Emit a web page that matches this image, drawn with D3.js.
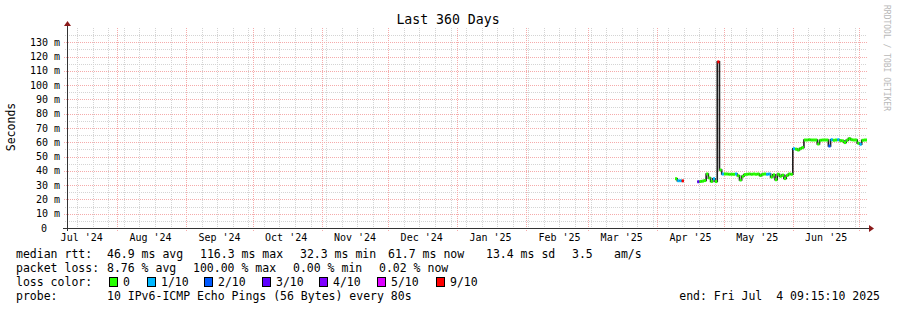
<!DOCTYPE html>
<html>
<head>
<meta charset="utf-8">
<script src="https://cdn.jsdelivr.net/npm/d3@7"></script>
<style>
body { margin: 0; background: #fff; }
text { font-family: "DejaVu Sans Mono", monospace; }
</style>
</head>
<body>
<svg id="chart" width="897" height="310"></svg>
<script>
/*Chart data*/
var startTime = "2024-07-09T09:15:10";
var endTime = "2025-07-04T09:15:10";
var firstDay = "2025-04-09";
// daily median rtt in ms, null = no data
var medianMs = [
  34.5, 33.1, 33.1, 33.0, null, null, null, null, null, null,
  32.4, 32.6, 32.8, 33.2, 37.8, 35.0, 32.6, 34.5, 32.5, 116.3,
  40.6, 37.8, 37.8, 37.8, 37.6, 37.6, 37.6, 37.8, 36.6, 33.6,
  36.2, 37.4, 37.6, 37.8, 37.6, 37.8, 37.6, 37.8, 36.8, 37.6,
  37.8, 37.6, 37.8, 35.7, 37.2, 33.8, 37.6, 36.2, 37.0, 34.6,
  36.8, 37.8, 37.6, 55.5, 55.2, 54.6, 55.6, 56.3, 61.6, 61.6,
  61.8, 61.6, 61.6, 61.6, 58.8, 61.4, 61.6, 61.6, 61.6, 57.4,
  61.8, 61.4, 61.6, 61.8, 61.2, 61.0, 59.8, 61.4, 62.6, 61.8,
  61.6, 61.6, 59.4, 58.6, 61.4, 61.6
];
// lost pings out of 10
var lossCount = [
  0, 1, 1, 9, 0, 0, 0, 0, 0, 0,
  3, 0, 0, 0, 0, 0, 0, 1, 0, 10,
  0, 1, 0, 0, 0, 0, 0, 1, 0, 0,
  0, 0, 0, 0, 0, 0, 0, 0, 0, 0,
  0, 1, 1, 0, 0, 0, 0, 0, 0, 0,
  0, 0, 0, 1, 0, 0, 0, 0, 0, 0,
  0, 0, 0, 0, 0, 0, 0, 0, 0, 2,
  1, 0, 0, 1, 0, 0, 0, 0, 0, 0,
  0, 0, 0, 1, 0, 0
];
var lossLabels = ["0", "1/10", "2/10", "3/10", "4/10", "5/10", "9/10"];
var lossColors = ["#26ff00", "#00b8ff", "#0059ff", "#5e00ff", "#7e00ff", "#dd00ff", "#ff0000"];
var yMax = 140;
var statLines = [
  ["median rtt:", "46.9 ms avg", "116.3 ms max", "32.3 ms min", "61.7 ms now", "13.4 ms sd", "3.5", "am/s"],
  ["packet loss:", "8.76 % avg", "100.00 % max", "0.00 % min", "0.02 % now"]
];
var probeText = "10 IPv6-ICMP Echo Pings (56 Bytes) every 80s";
var endText = "end: Fri Jul  4 09:15:10 2025";

/*Layout*/
var svg = d3.select("#chart");
var plotLeft = 67, plotRight = 867, plotTop = 28, plotBottom = 228;
var parse = d3.isoParse;

var x = d3.scaleTime()
  .domain([parse(startTime), parse(endTime)])
  .range([plotLeft, plotRight]);
var y = d3.scaleLinear().domain([0, yMax]).range([plotBottom, plotTop]);

svg.append("rect").attr("width", 897).attr("height", 310).attr("fill", "#fff");

//Map lost pings to a legend color
function lossIndex(n) {
  if (n <= 4) return n;
  if (n <= 8) return 5;
  return 6;
}

/*Grid*/
var grid = svg.append("g").attr("shape-rendering", "crispEdges");
var weeks = d3.timeSunday.range(parse(startTime), parse(endTime));
var months = d3.timeMonth.range(parse(startTime), parse(endTime));
var minorY = d3.range(5, yMax, 10);
var majorY = d3.range(10, yMax, 10);
var minorColor = "#d4d4d4", majorColor = "#f5abab";

grid.selectAll(".wk").data(weeks).enter().append("line")
  .attr("x1", function(d) { return Math.round(x(d)) + 0.5; })
  .attr("x2", function(d) { return Math.round(x(d)) + 0.5; })
  .attr("y1", plotTop).attr("y2", plotBottom + 2)
  .attr("stroke", minorColor).attr("stroke-dasharray", "1,1");
grid.selectAll(".hy").data(minorY).enter().append("line")
  .attr("x1", plotLeft - 2).attr("x2", plotRight)
  .attr("y1", function(d) { return Math.round(y(d)) + 0.5; })
  .attr("y2", function(d) { return Math.round(y(d)) + 0.5; })
  .attr("stroke", minorColor).attr("stroke-dasharray", "1,1");
grid.selectAll(".mo").data(months).enter().append("line")
  .attr("x1", function(d) { return Math.round(x(d)) + 0.5; })
  .attr("x2", function(d) { return Math.round(x(d)) + 0.5; })
  .attr("y1", plotTop).attr("y2", plotBottom + 3)
  .attr("stroke", majorColor).attr("stroke-dasharray", "1,1");
grid.selectAll(".my").data(majorY).enter().append("line")
  .attr("x1", plotLeft - 3).attr("x2", plotRight)
  .attr("y1", function(d) { return Math.round(y(d)) + 0.5; })
  .attr("y2", function(d) { return Math.round(y(d)) + 0.5; })
  .attr("stroke", majorColor).attr("stroke-dasharray", "1,1");

/*Axis labels*/
svg.selectAll(".ylab").data([0].concat(majorY)).enter().append("text")
  .attr("x", function(d) { return d === 0 ? 47 : 60; })
  .attr("y", function(d) { return y(d) + 3.5; })
  .attr("text-anchor", "end")
  .attr("font-size", "10px")
  .attr("fill", "#000")
  .text(function(d) { return d === 0 ? "0" : d + " m"; });

var midMonths = [parse("2024-07-16T00:00:00")].concat(months.map(function(d) {
  return d3.timeDay.offset(d, 15);
})).filter(function(d) { return d < parse(endTime); });
svg.selectAll(".xlab").data(midMonths).enter().append("text")
  .attr("x", function(d) { return x(d); })
  .attr("y", 241)
  .attr("text-anchor", "middle")
  .attr("font-size", "10px")
  .text(d3.timeFormat("%b '%y"));

/*Data*/
var days = medianMs.map(function(v, i) {
  var t0 = d3.timeDay.offset(parse(firstDay + "T00:00:00"), i);
  var t1 = i === medianMs.length - 1 ? parse(endTime) : d3.timeDay.offset(t0, 1);
  return {t0: t0, t1: t1, v: v, loss: lossCount[i]};
});

var steps = [];
days.forEach(function(d) {
  if (d.v === null) { steps.push(null); return; }
  steps.push({t: d.t0, v: d.v});
  steps.push({t: d.t1, v: d.v});
});

var stepLine = d3.line()
  .defined(function(d) { return d !== null; })
  .x(function(d) { return x(d.t); })
  .y(function(d) { return y(d.v); });

svg.append("path")
  .attr("d", stepLine(steps))
  .attr("fill", "none")
  .attr("stroke", "#202020")
  .attr("stroke-width", 1.6);

svg.selectAll(".seg").data(days.filter(function(d) { return d.v !== null; }))
  .enter().append("line")
  .attr("x1", function(d) { return x(d.t0); })
  .attr("x2", function(d) { return x(d.t1); })
  .attr("y1", function(d) { return y(d.v); })
  .attr("y2", function(d) { return y(d.v); })
  .attr("stroke", function(d) { return lossColors[lossIndex(d.loss)]; })
  .attr("stroke-width", 3);

/*Axes*/
var axes = svg.append("g").attr("shape-rendering", "crispEdges");
axes.append("line").attr("x1", plotLeft + 0.5).attr("x2", plotLeft + 0.5)
  .attr("y1", plotBottom + 3).attr("y2", plotTop - 4)
  .attr("stroke", "#333");
axes.append("line").attr("x1", plotLeft - 4).attr("x2", plotRight + 2)
  .attr("y1", plotBottom + 0.5).attr("y2", plotBottom + 0.5)
  .attr("stroke", "#333");
svg.append("path")
  .attr("d", "M" + (plotLeft + 0.5) + "," + (plotTop - 7) + "l-3.5,5h7z")
  .attr("fill", "#8b1a1a");
svg.append("path")
  .attr("d", "M" + (plotRight + 7) + "," + (plotBottom + 0.5) + "l-5,-3.5v7z")
  .attr("fill", "#8b1a1a");

/*Titles*/
svg.append("text")
  .attr("x", 448).attr("y", 24)
  .attr("text-anchor", "middle")
  .attr("font-size", "13.2px")
  .text("Last 360 Days");

svg.append("text")
  .attr("transform", "translate(15,127) rotate(-90)")
  .attr("text-anchor", "middle")
  .attr("font-size", "11.5px")
  .text("Seconds");

svg.append("text")
  .attr("transform", "translate(884,5) rotate(90)")
  .attr("font-size", "8px")
  .attr("fill", "#b8b8b8")
  .text("RRDTOOL / TOBI OETIKER");

/*Legend*/
var legendX = [
  [16, 107, 200, 300, 388, 486, 572, 614],
  [16, 107, 193, 293, 379]
];
var legend = svg.append("g").attr("font-size", "11.5px");
statLines.forEach(function(row, r) {
  row.forEach(function(s, c) {
    legend.append("text")
      .attr("x", legendX[r][c])
      .attr("y", 258 + r * 14)
      .text(s);
  });
});

legend.append("text").attr("x", 16).attr("y", 286).text("loss color:");
var boxX = [109, 147, 204, 262, 319, 377, 436];
lossLabels.forEach(function(lab, i) {
  legend.append("rect")
    .attr("x", boxX[i] + 0.5).attr("y", 277.5)
    .attr("width", 8).attr("height", 9)
    .attr("fill", lossColors[i])
    .attr("stroke", "#000");
  legend.append("text")
    .attr("x", boxX[i] + 14).attr("y", 286)
    .text(lab);
});

legend.append("text").attr("x", 16).attr("y", 300).text("probe:");
legend.append("text").attr("x", 107).attr("y", 300).text(probeText);
legend.append("text").attr("x", 880).attr("y", 300)
  .attr("text-anchor", "end")
  .attr("xml:space", "preserve")
  .style("white-space", "pre")
  .text(endText);
</script>
</body>
</html>
